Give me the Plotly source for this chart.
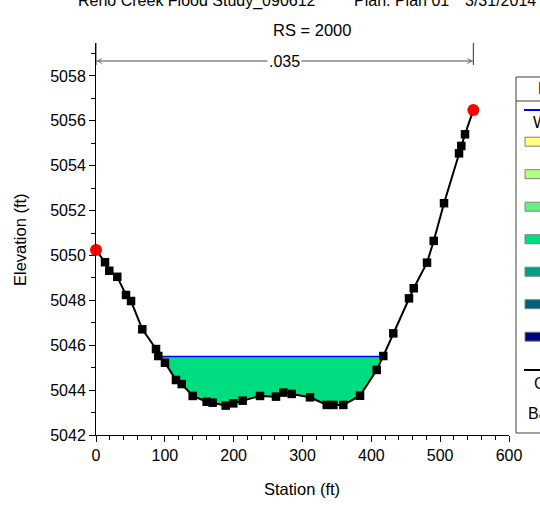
import plotly.graph_objects as go

# ---------------- data ----------------
stations = [0, 13.1, 19.3, 30.9, 43.6, 50.9, 67.3, 87.2, 90.5, 100.2, 116.2, 124.5,
            140.5, 160.8, 169.5, 188.4, 199.5, 213.1, 238.3, 261.5, 272.1, 284.3,
            310.9, 335.2, 344.8, 359.3, 383.6, 407.8, 417.4, 431.9, 454.7, 461.6,
            480.9, 490.6, 505.6, 527.4, 530.7, 536.1, 548.2]
elevations = [5050.24, 5049.70, 5049.32, 5049.05, 5048.24, 5047.97, 5046.71, 5045.83,
              5045.52, 5045.22, 5044.45, 5044.27, 5043.74, 5043.48, 5043.44, 5043.31,
              5043.41, 5043.53, 5043.74, 5043.71, 5043.89, 5043.83, 5043.68, 5043.34,
              5043.34, 5043.34, 5043.75, 5044.90, 5045.52, 5046.53, 5048.09, 5048.54,
              5049.68, 5050.65, 5052.33, 5054.55, 5054.88, 5055.40, 5056.48]
bank_stations = [0, 548.2]
bank_elevations = [5050.24, 5056.48]
ws_elev = 5045.5
mannings_n = ".035"
x_ticks = [0, 100, 200, 300, 400, 500, 600]
y_ticks = [5042, 5044, 5046, 5048, 5050, 5052, 5054, 5056, 5058]
title_parts = ["Reno Creek Flood Study_090612", "Plan: Plan 01", "3/31/2014"]
subtitle = "RS = 2000"
legend_header = "Legend"
legend_ws = "WS PF 1"
legend_colors = ["#FFFF80", "#B0FF80", "#66F080", "#00DD80", "#00A080", "#006080", "#000080"]
legend_ranges = ["0-1 ft/s", "1-2 ft/s", "2-3 ft/s", "3-4 ft/s", "4-5 ft/s", "5-6 ft/s", "6-7 ft/s"]
legend_ground = "Ground"
legend_bank = "Bank Sta"

# ---------------- layout helpers ----------------
W, H = 540, 518
L, R, T, B = 96, 31, 43, 83
PW, PH = W - L - R, H - T - B
FONT = "Liberation Sans, Arial, sans-serif"


def px(xp):
    return (xp - L) / PW


def py(yp):
    return (H - B - yp) / PH


# water polygon (ground below WS)
def crossing(i, j):
    x0, y0, x1, y1 = stations[i], elevations[i], stations[j], elevations[j]
    return x0 + (ws_elev - y0) * (x1 - x0) / (y1 - y0)

below = [i for i, e in enumerate(elevations) if e < ws_elev]
i0, i1 = below[0], below[-1]
xl = crossing(i0 - 1, i0)
xr = crossing(i1, i1 + 1)
poly_x = [xl] + [stations[i] for i in range(i0, i1 + 1)] + [xr, xl]
poly_y = [ws_elev] + [elevations[i] for i in range(i0, i1 + 1)] + [ws_elev, ws_elev]

fig = go.Figure()
fig.add_trace(go.Scatter(x=poly_x, y=poly_y, fill="toself", fillcolor=legend_colors[3],
                         mode="lines", line=dict(width=0), hoverinfo="skip"))
fig.add_trace(go.Scatter(x=[xl, xr], y=[ws_elev, ws_elev], mode="lines",
                         line=dict(color="#0000FF", width=1.5)))
fig.add_trace(go.Scatter(x=stations, y=elevations, mode="lines+markers",
                         line=dict(color="black", width=2),
                         marker=dict(symbol="square", size=8.5, color="black"),
                         cliponaxis=False))
fig.add_trace(go.Scatter(x=bank_stations, y=bank_elevations, mode="markers",
                         marker=dict(symbol="circle", size=12, color="#FF0000"),
                         cliponaxis=False))

shapes = []
annotations = []

# n-value bracket
yb = py(61)
for s in bank_stations:
    shapes.append(dict(type="line", xref="x", yref="paper", x0=s, x1=s, y0=1.0, y1=py(65),
                       line=dict(color="#303030", width=1)))
shapes.append(dict(type="line", xref="x", yref="paper", x0=bank_stations[0], x1=bank_stations[1],
                   y0=yb, y1=yb, line=dict(color="#909090", width=1)))
mid = (bank_stations[0] + bank_stations[1]) / 2
for s in bank_stations:
    annotations.append(dict(x=s, y=yb, xref="x", yref="paper", ax=mid, ay=0, axref="x",
                            ayref="pixel", text="", showarrow=True, arrowhead=3,
                            arrowsize=1.2, arrowwidth=1, arrowcolor="#808080"))
annotations.append(dict(x=mid, y=yb, xref="x", yref="paper", text=mannings_n, showarrow=False,
                        bgcolor="white", font=dict(family=FONT, size=16, color="black"),
                        borderpad=1, xanchor="center", yanchor="middle"))

# titles
title_x = [76, 352, 463]
for t, xp in zip(title_parts, title_x):
    annotations.append(dict(x=px(xp), y=py(1), xref="paper", yref="paper", text=t,
                            showarrow=False, xanchor="left", yanchor="middle",
                            font=dict(family=FONT, size=16, color="black")))
annotations.append(dict(x=px(312), y=py(30), xref="paper", yref="paper", text=subtitle,
                        showarrow=False, xanchor="center", yanchor="middle",
                        font=dict(family=FONT, size=16.5, color="black")))
annotations.append(dict(x=px(302), y=py(489), xref="paper", yref="paper", text="Station (ft)",
                        showarrow=False, xanchor="center", yanchor="middle",
                        font=dict(family=FONT, size=16.5, color="black")))
annotations.append(dict(x=px(20), y=py(240), xref="paper", yref="paper", text="Elevation (ft)",
                        showarrow=False, xanchor="center", yanchor="middle", textangle=-90,
                        font=dict(family=FONT, size=16.5, color="black")))

# legend box (partially visible)
shapes.append(dict(type="rect", xref="paper", yref="paper", x0=px(516), x1=px(600),
                   y0=py(433), y1=py(77), line=dict(color="#404040", width=1), fillcolor="white",
                   layer="below"))
shapes.append(dict(type="line", xref="paper", yref="paper", x0=px(516), x1=px(600),
                   y0=py(101), y1=py(101), line=dict(color="#404040", width=1)))
annotations.append(dict(x=px(536), y=py(88), xref="paper", yref="paper", text=legend_header,
                        showarrow=False, xanchor="left", yanchor="middle",
                        font=dict(family=FONT, size=16, color="black")))
shapes.append(dict(type="line", xref="paper", yref="paper", x0=px(524), x1=px(600),
                   y0=py(110), y1=py(110), line=dict(color="#0000FF", width=2)))
annotations.append(dict(x=px(531), y=py(122), xref="paper", yref="paper", text=legend_ws,
                        showarrow=False, xanchor="left", yanchor="middle",
                        font=dict(family=FONT, size=16, color="black")))
for k, (c, lab) in enumerate(zip(legend_colors, legend_ranges)):
    yc = 141.7 + k * 32.5
    shapes.append(dict(type="rect", xref="paper", yref="paper", x0=px(525), x1=px(560),
                       y0=py(yc + 4.5), y1=py(yc - 4.5), fillcolor=c,
                       line=dict(color="#808080", width=1)))
shapes.append(dict(type="line", xref="paper", yref="paper", x0=px(524), x1=px(600),
                   y0=py(370), y1=py(370), line=dict(color="black", width=2)))
annotations.append(dict(x=px(532), y=py(383), xref="paper", yref="paper", text=legend_ground,
                        showarrow=False, xanchor="left", yanchor="middle",
                        font=dict(family=FONT, size=16, color="black")))
annotations.append(dict(x=px(526), y=py(413), xref="paper", yref="paper", text=legend_bank,
                        showarrow=False, xanchor="left", yanchor="middle",
                        font=dict(family=FONT, size=16, color="black")))

fig.update_layout(
    width=W, height=H, margin=dict(l=L, r=R, t=T, b=B, autoexpand=False),
    paper_bgcolor="white", plot_bgcolor="white", showlegend=False,
    shapes=shapes, annotations=annotations,
    font=dict(family=FONT, size=16, color="black"),
    xaxis=dict(range=[0, 600], tickvals=x_ticks, ticktext=[str(v) for v in x_ticks],
               showgrid=False, zeroline=False, showline=True, linecolor="black", linewidth=1,
               ticks="outside", ticklen=6, tickcolor="black",
               minor=dict(dtick=20, ticks="outside", ticklen=4, tickcolor="black"),
               tickfont=dict(family=FONT, size=16, color="black")),
    yaxis=dict(range=[5042, 5042 + (H - B - T) / 22.44], tickvals=y_ticks,
               ticktext=[str(v) for v in y_ticks],
               showgrid=False, zeroline=False, showline=True, linecolor="black", linewidth=1,
               ticks="outside", ticklen=6, tickcolor="black",
               minor=dict(dtick=1, ticks="outside", ticklen=4, tickcolor="black"),
               tickfont=dict(family=FONT, size=16, color="black")),
)

fig.write_html("out.html")
